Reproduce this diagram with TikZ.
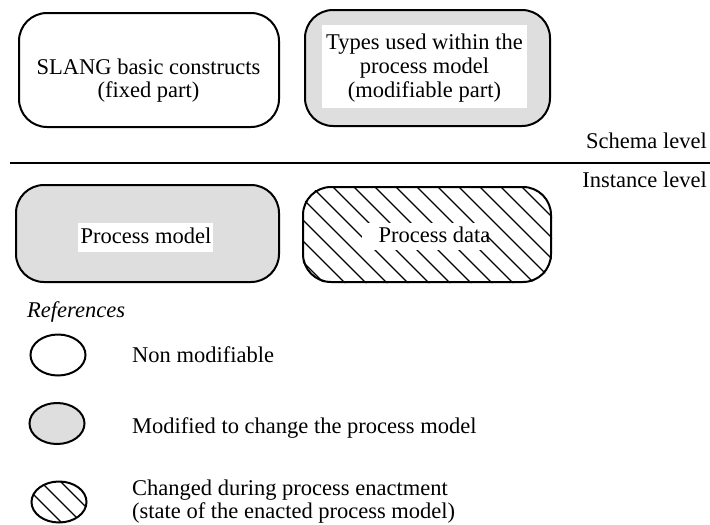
\documentclass[tikz,border=0pt]{standalone}
\usepackage{fontspec}
\setmainfont{Liberation Serif}
\usetikzlibrary{shapes.geometric}
\definecolor{fillgray}{HTML}{DEDEDE}
\begin{document}
\begin{tikzpicture}[x=1pt,y=-1pt,
  box/.style={draw, line width=2pt, rounded corners=28pt, inner sep=0pt},
  lbl/.style={font=\fontsize{22.5}{23}\selectfont, inner sep=0pt},
  hatchline/.style={line width=1.2pt},
  ell/.style={draw, line width=2pt, ellipse, inner sep=0pt, minimum width=55pt, minimum height=41pt},
  whitebg/.style={fill=white, inner sep=0pt}]
\useasboundingbox (0,0) rectangle (710,525);

% Schema level boxes
\node[box, minimum width=260pt, minimum height=114pt] (b1) at (149,70) {};
\node[lbl, anchor=base] (b1t1) at (148.5,74) {SLANG basic constructs};
\node[lbl, anchor=base] (b1t2) at (148.5,97) {(fixed part)};

\node[box, fill=fillgray, minimum width=245pt, minimum height=116pt] (b2) at (427.5,68) {};
\node[whitebg, minimum width=205pt, minimum height=83pt] (b2bg) at (424.5,66.5) {};
\node[lbl, anchor=base] (b2t1) at (424.5,49) {Types used within the};
\node[lbl, anchor=base] (b2t2) at (424.5,73) {process model};
\node[lbl, anchor=base] (b2t3) at (424.5,97) {(modifiable part)};

% separator
\coordinate (lineL) at (10,163);
\coordinate (lineR) at (710,163);
\draw[line width=2pt] (lineL) -- (lineR);
\node[lbl, anchor=base east] (schema) at (707,148) {Schema level};
\node[lbl, anchor=base east] (inst) at (707,187) {Instance level};

% Instance level boxes
\node[box, fill=fillgray, minimum width=263pt, minimum height=97pt] (b3) at (147.5,233.5) {};
\node[whitebg, minimum width=135pt, minimum height=29pt] (b3bg) at (145.5,237.5) {};
\node[lbl, anchor=base] (b3t) at (146,243) {Process model};

\node[box, minimum width=248pt, minimum height=95pt] (b4) at (427,234.5) {};
\begin{scope}
  \clip[rounded corners=28pt] (b4.north west) rectangle (b4.south east);
  \foreach \c in {-10,11,...,560} {
    \draw[hatchline] (\c,180) -- ++(110,110);
  }
\end{scope}
\node[whitebg, minimum width=124pt, minimum height=27pt] (b4bg) at (424,236.5) {};
\node[lbl, anchor=base] (b4t) at (434.5,242) {Process data};

% References
\node[lbl, anchor=base west, font=\fontsize{22.5}{23}\selectfont\itshape] (refs) at (27,317) {References};

\node[ell] (e1) at (58,355) {};
\node[lbl, anchor=base west] (e1t) at (132,362) {Non modifiable};

\node[ell, fill=fillgray] (e2) at (57,423.5) {};
\node[lbl, anchor=base west] (e2t) at (132,433) {Modified to change the process model};

\node[ell] (e3) at (59,502) {};
\begin{scope}
  \clip (e3.center) ellipse [x radius=27.5pt, y radius=20.5pt];
  \foreach \c in {-1,19,39,59,79} {
    \draw[hatchline] (\c,480) -- ++(50,50);
  }
\end{scope}
\node[lbl, anchor=base west] (e3t1) at (132,495) {Changed during process enactment};
\node[lbl, anchor=base west] (e3t2) at (132,518) {(state of the enacted process model)};
\end{tikzpicture}
\end{document}
